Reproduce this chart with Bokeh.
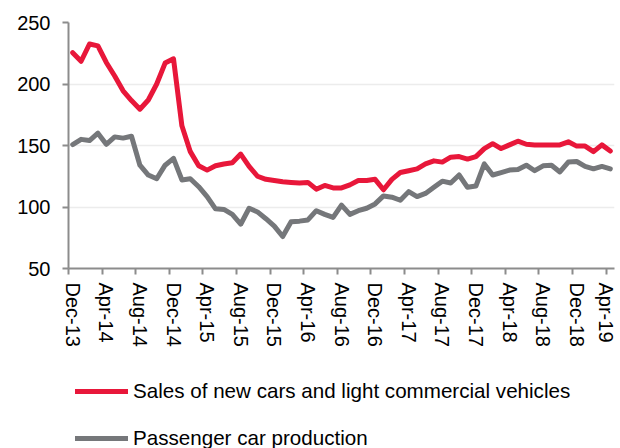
from bokeh.plotting import figure
from bokeh.models import FixedTicker, Legend, LegendItem, Range1d
from bokeh.layouts import column
from bokeh.embed import file_html
from bokeh.resources import INLINE

tick_labels = ["Dec-13", "Apr-14", "Aug-14", "Dec-14", "Apr-15", "Aug-15", "Dec-15",
               "Apr-16", "Aug-16", "Dec-16", "Apr-17", "Aug-17", "Dec-17", "Apr-18",
               "Aug-18", "Dec-18", "Apr-19"]

sales = [225.5, 218.5, 232.5, 231, 217.5, 206.5, 194.5, 186.5, 179.5, 187,
         200, 217, 220.5, 166, 145, 133.5, 130, 133.5, 135, 136,
         143, 133, 125, 122.5, 121.5, 120.5, 120, 119.5, 120, 114.5,
         117.5, 115.5, 115.5, 118, 121.5, 121.5, 122.5, 114, 122.5, 128,
         129.5, 131, 135, 137.5, 136.5, 140.5, 141, 139, 141, 147.5,
         151.5, 147.5, 150.5, 153.5, 151, 150.5, 150.5, 150.5, 150.5, 153,
         149.5, 149.5, 145, 150.5, 145.5]

production = [150.8, 155, 154, 160, 151, 157, 156, 157.5, 134, 126,
              123, 134, 139.5, 122, 123, 116.5, 108.5, 98.5, 98, 94,
              86, 99, 96, 90.5, 84.5, 76, 88, 88.5, 89.5, 97,
              94, 91.5, 101.5, 94, 97, 99, 102.5, 109, 108, 105.5,
              112.5, 108.5, 111, 116, 121, 119.5, 126, 116, 117, 135,
              126, 128, 130, 130.5, 134, 129.5, 133.5, 134, 128.5, 136.5,
              137, 133, 131, 133, 131]

series_names = ["Sales of new cars and light commercial vehicles", "Passenger car production"]
series_colors = ["#e8173a", "#75777a"]

n = len(sales)
x = [i + 0.5 for i in range(n)]

p = figure(width=616, height=360, x_range=Range1d(0, n), y_range=Range1d(50, 250),
           output_backend="svg", toolbar_location=None,
           min_border_left=68, min_border_right=2, min_border_top=22, min_border_bottom=92)
p.outline_line_color = None
p.background_fill_color = "white"
p.border_fill_color = "white"

FONT = "Liberation Sans"
AXIS_COLOR = "#8c8c8c"

major = [4 * k + 0.5 for k in range(len(tick_labels))]
minor = [4 * k for k in range(len(tick_labels))]
p.xaxis.ticker = FixedTicker(ticks=major, minor_ticks=minor)
p.xaxis.major_label_overrides = {m: lab for m, lab in zip(major, tick_labels)}
p.xaxis.major_label_orientation = "vertical"
p.xaxis.major_tick_out = 0
p.xaxis.major_tick_in = 0
p.xaxis.minor_tick_out = 6
p.xaxis.minor_tick_in = 0
p.xaxis.minor_tick_line_color = AXIS_COLOR
p.xaxis.minor_tick_line_width = 2
p.xaxis.major_label_standoff = 8
p.xaxis.axis_line_color = AXIS_COLOR
p.xaxis.axis_line_width = 2

p.yaxis.ticker = FixedTicker(ticks=[50, 100, 150, 200, 250])
p.yaxis.major_tick_out = 6
p.yaxis.major_tick_in = 0
p.yaxis.minor_tick_line_color = None
p.yaxis.major_tick_line_color = AXIS_COLOR
p.yaxis.major_tick_line_width = 2
p.yaxis.axis_line_color = AXIS_COLOR
p.yaxis.axis_line_width = 2
p.yaxis.major_label_standoff = 12

for ax in (p.xaxis, p.yaxis):
    ax.major_label_text_font = FONT
    ax.major_label_text_font_size = "20px"
    ax.major_label_text_color = "#000000"

p.xgrid.grid_line_color = None
p.ygrid.ticker = FixedTicker(ticks=[100, 150, 200, 250])
p.ygrid.grid_line_color = "#ececec"
p.ygrid.grid_line_width = 1.5

p.line(x, sales, line_color=series_colors[0], line_width=5,
       line_join="round", line_cap="round")
p.line(x, production, line_color=series_colors[1], line_width=5,
       line_join="round", line_cap="round")

# legend panel below the chart (its frame is aligned with the chart frame)
q = figure(width=616, height=88, x_range=Range1d(0, 1), y_range=Range1d(0, 1),
           output_backend="svg", toolbar_location=None,
           x_axis_location=None, y_axis_location=None,
           min_border_left=68, min_border_right=2, min_border_top=0, min_border_bottom=0)
q.outline_line_color = None
q.grid.visible = False
q.background_fill_color = "white"
q.border_fill_color = "white"
items = []
for name, col in zip(series_names, series_colors):
    # off-range proxy lines, only used to draw the legend glyphs
    r = q.line([5, 6], [5, 6], line_color=col, line_width=5, line_cap="round")
    items.append(LegendItem(label=name, renderers=[r]))

legend = Legend(items=items, location=(7, -2), orientation="vertical",
                glyph_width=53, glyph_height=20, label_height=20, spacing=23,
                label_standoff=5, padding=0, margin=0,
                label_text_font=FONT, label_text_font_size="20.6px", label_text_color="#000000",
                border_line_color=None, background_fill_alpha=0)
q.add_layout(legend)

layout = column(p, q, spacing=0)
open("out.html", "w").write(file_html(layout, INLINE))
